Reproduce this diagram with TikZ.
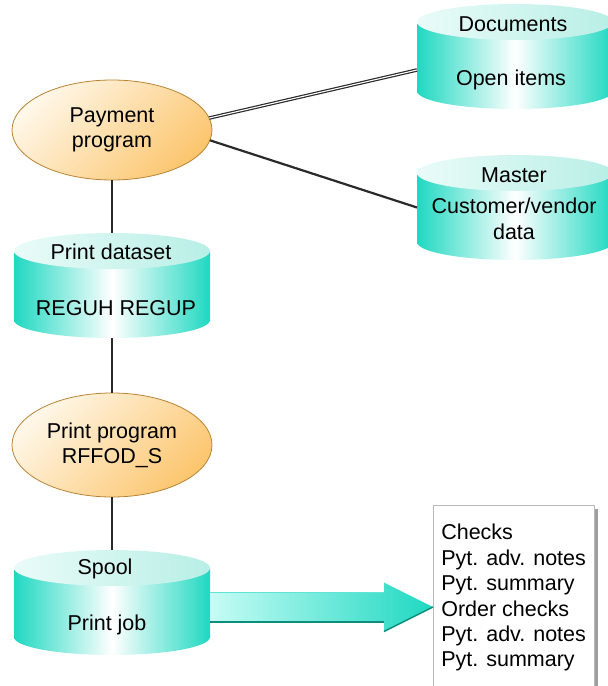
\documentclass[tikz,border=0pt]{standalone}
\usepackage{fontspec}
\setmainfont{Liberation Sans}
\usetikzlibrary{calc,shapes.geometric,shadows}

\definecolor{teal1}{HTML}{1FD8C1}
\definecolor{tealtop}{HTML}{B8EFE6}
\definecolor{tealtopL}{HTML}{EAFBF8}
\definecolor{cream}{HTML}{FFF7E8}
\definecolor{orng}{HTML}{FCC66F}
\definecolor{orngline}{HTML}{B98434}
\definecolor{arrowL}{HTML}{C6FCF5}
\definecolor{arrowdark}{HTML}{0E8C7C}
\definecolor{connc}{HTML}{2A2A2A}

\tikzset{
  txt/.style={inner sep=0pt, align=center, font=\fontsize{21.5}{25.5}\selectfont},
  prog/.style={ellipse, draw=orngline, line width=0.8pt,
    left color=cream, right color=orng, shading angle=45,
    minimum width=200, minimum height=100, inner sep=0pt, outer sep=0pt,
    align=center, font=\fontsize{21.5}{25}\selectfont},
  dbnode/.style={minimum width=196, minimum height=105, inner sep=0pt, outer sep=0pt},
  dbside/.style={left color=teal1, right color=teal1, middle color=white},
  dbtop/.style={left color=tealtopL, right color=tealtop},
  conn/.style={draw=connc, line width=2.2pt},
  dblconn/.style={draw=connc, line width=1.2pt, double=white, double distance=1.1pt},
  outbox/.style={draw=gray!55, line width=0.6pt, fill=white,
    minimum height=185, minimum width=159, inner xsep=8pt, inner ysep=0pt,
    align=left, font=\fontsize{21.5}{25.4}\selectfont,
    general shadow={fill=gray!75, shadow xshift=4pt, shadow yshift=-4pt}},
}

\newcommand\dbshape[1]{%
  \shade[dbside] ($(#1.south)+(0,-18)$) ellipse[x radius=98, y radius=18];
  \shade[dbside] ($(#1.north west)+(0,18)$) rectangle ($(#1.south east)+(0,-18)$);
  \shade[dbtop] ($(#1.north)+(0,18)$) ellipse[x radius=98, y radius=18];
}

\begin{document}
\begin{tikzpicture}[x=1pt, y=-1pt]
\useasboundingbox (0,0) rectangle (608,686);
\clip (0,0) rectangle (608,686);

% programs
\node[prog] (pay) at (112,130) {Payment\\program};
\node[prog, minimum height=104] (pp) at (112,445) {Print program\\RFFOD\_S};

% databases
\node[dbnode] (docs) at (515,56.5) {};
\dbshape{docs}
\node[txt] (docsT) at (513,24) {Documents};
\node[txt] (docsB) at (511,80) {Open items};

\node[dbnode] (master) at (515,207.5) {};
\dbshape{master}
\node[txt] (masterT) at (514,175) {Master};
\node[txt] (masterB) at (514,219) {Customer/vendor\\data};

\node[dbnode] (pds) at (112,285.5) {};
\dbshape{pds}
\node[txt] (pdsT) at (111,252) {Print dataset};
\node[txt] (pdsB) at (116,308) {REGUH REGUP};

\node[dbnode] (spool) at (112,602.5) {};
\dbshape{spool}
\node[txt] (spoolT) at (105,569) {Spool};
\node[txt] (spoolB) at (107,625) {Print job};

% output box
\node[outbox, anchor=north west] (box) at (433,505)
  {Checks\\Pyt. adv. notes\\Pyt. summary\\Order checks\\Pyt. adv. notes\\Pyt. summary};

% connectors
\draw[dblconn] (pay.7) -- ($(docs.west)+(0,13.5)$);
\draw[conn] (pay.-6) -- (master.west);
\draw[conn] (pay.south) -- (pds.north);
\draw[conn] (pds.south) -- (pp.north);
\draw[conn] (pp.south) -- (spool.north);

% big arrow
\coordinate (a0) at ($(spool.east)+(0,4.5)$);
\coordinate (tip) at (box.west |- a0);
\shade[left color=arrowL, right color=teal1]
  ($(a0)+(0,-15)$) -- ($(tip)+(-49,-15)$) -- ($(tip)+(-49,-24.5)$) -- (tip)
  -- ($(tip)+(-49,24.5)$) -- ($(tip)+(-49,15)$) -- ($(a0)+(0,15)$) -- cycle;
\draw[arrowdark, line width=1.4pt] ($(a0)+(0,15)$) -- ($(tip)+(-49,15)$);
\draw[arrowdark, line width=1.4pt] ($(tip)+(-49,24.5)$) -- (tip);
\draw[teal1!70!white, line width=0.8pt] ($(a0)+(0,-15)$) -- ($(tip)+(-49,-15)$);
\end{tikzpicture}
\end{document}
